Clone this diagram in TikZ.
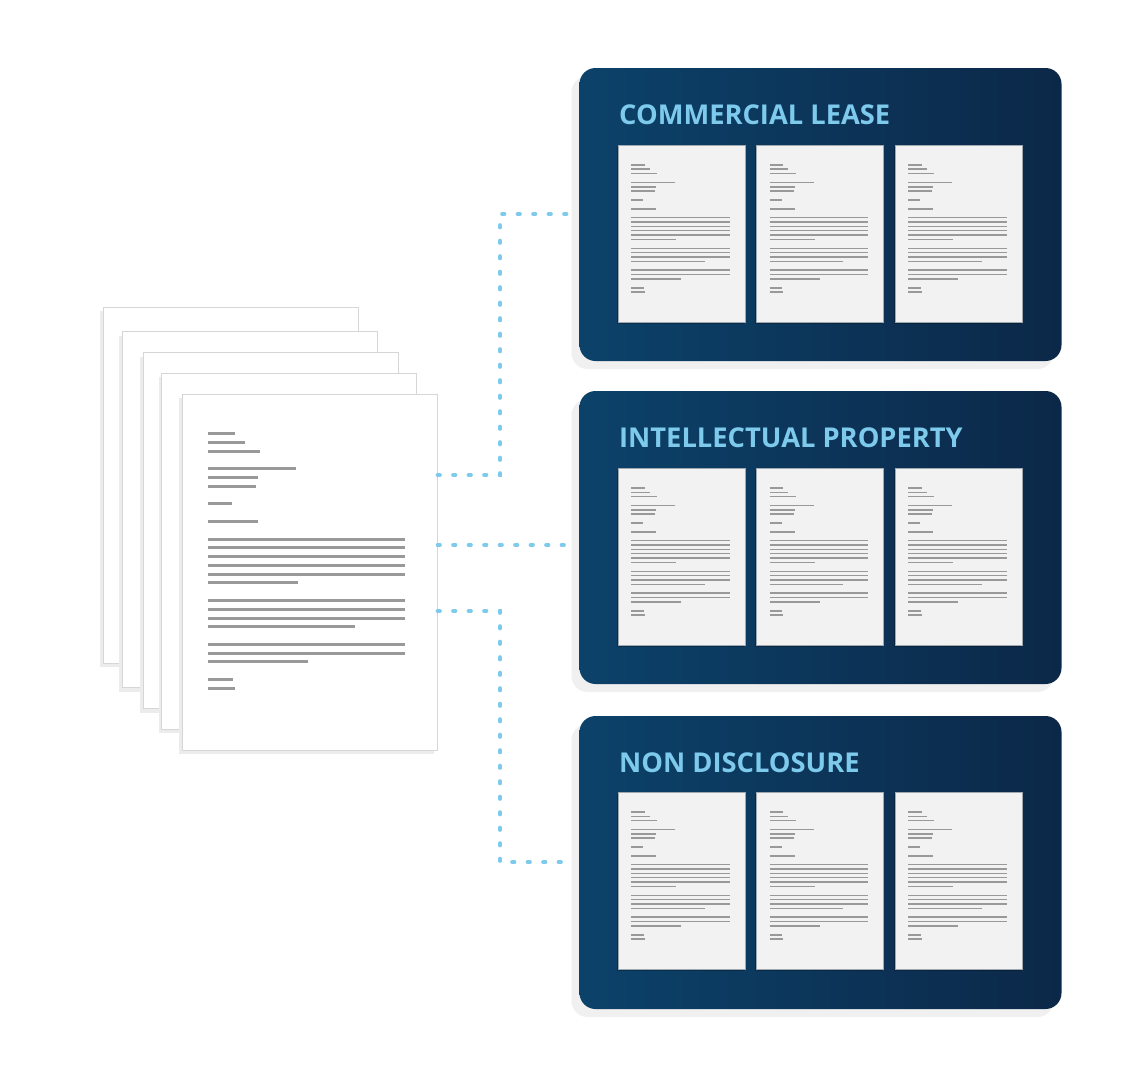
\documentclass[tikz,border=0pt]{standalone}
\usepackage{fontspec}
\newfontfamily\titlefont{Open Sans}
\usetikzlibrary{shadows}
\definecolor{panelL}{RGB}{12,66,106}
\definecolor{panelR}{RGB}{12,40,72}
\definecolor{skyb}{RGB}{125,202,237}
\definecolor{txtline}{RGB}{153,153,153}
\definecolor{sheetedge}{RGB}{214,214,214}
\definecolor{sheetshade}{RGB}{236,236,236}
\definecolor{pshadow}{RGB}{240,240,240}
\definecolor{minifill}{RGB}{242,242,242}
\definecolor{miniedge}{RGB}{160,168,176}
\newcommand\doclines[4]{%
  \foreach \kk/\len in {0/26.7,1/37,2/52,4/88,5/50,6/48,8/24,10/50,12/197,13/197,14/197,15/197,16/197,17/90,19/197,20/197,21/197,22/147,24/197,25/197,26/100,28/25,29/27}{
    \draw[line width=#4, txtline] ({#1+26.3*#3},{#2+(39.7+\kk*8.78)*#3}) -- ++({\len*#3},0);
  }}
\tikzset{
  sheet/.style={draw=sheetedge, fill=white, line width=1pt, minimum width=255pt, minimum height=356pt, inner sep=0pt,
    general shadow={fill=sheetshade, shadow xshift=-3pt, shadow yshift=-4pt}},
  panel/.style={minimum width=482pt, minimum height=293pt, rounded corners=16pt, left color=panelL, right color=panelR, draw=none, inner sep=0pt,
    general shadow={fill=pshadow, shadow xshift=-8pt, shadow yshift=-8pt}},
  minidoc/.style={minimum width=127pt, minimum height=177pt, fill=minifill, draw=miniedge, line width=0.8pt, inner sep=0pt,
    general shadow={fill=black, opacity=0.25, shadow xshift=-1.5pt, shadow yshift=-1.5pt}},
  ttl/.style={text=skyb, font=\titlefont\bfseries\fontsize{27.3}{28}\selectfont, inner sep=0pt, anchor=base west},
  conn/.style={draw=skyb, line width=3.6pt, line cap=round, dash pattern=on 2.5pt off 13pt}
}
\begin{document}
\begin{tikzpicture}[x=1pt,y=-1pt]
\fill[white] (0,0) rectangle (1130,1080);
\useasboundingbox (0,0) rectangle (1130,1080);
% stack of sheets
\node[sheet] (sA) at (230.5,485) {};
\node[sheet] (sB) at (249.5,509.5) {};
\node[sheet] (sC) at (270.5,530.5) {};
\node[sheet] (sD) at (289,551) {};
\node[sheet] (main) at (309.5,572) {};
\doclines{182}{394}{1}{3pt}
% connectors
\draw[conn] (main.east |- 0,475) -| (500,214) -- (820,214);
\draw[conn] (main.east |- 0,545) -- (820,545);
\draw[conn] (main.east |- 0,611) -| (500,862) -- (820,862);
% panels
\node[panel] (p1) at (820.5,214.5) {};
\node[panel] (p2) at (820.5,537.5) {};
\node[panel] (p3) at (820.5,862.5) {};
\node[ttl] (t1) at (619,124) {COMMERCIAL LEASE};
\node[ttl] (t2) at (619,447) {INTELLECTUAL PROPERTY};
\node[ttl] (t3) at (619,772) {NON DISCLOSURE};
\foreach \row/\top in {1/145,2/468,3/792}{
  \foreach \col/\left in {1/618,2/756.5,3/895}{
    \node[minidoc] (d\row\col) at ({\left+63.5},{\top+88.5}) {};
    \doclines{\left}{\top}{0.5}{1.5pt}
  }
}
\end{tikzpicture}
\end{document}
